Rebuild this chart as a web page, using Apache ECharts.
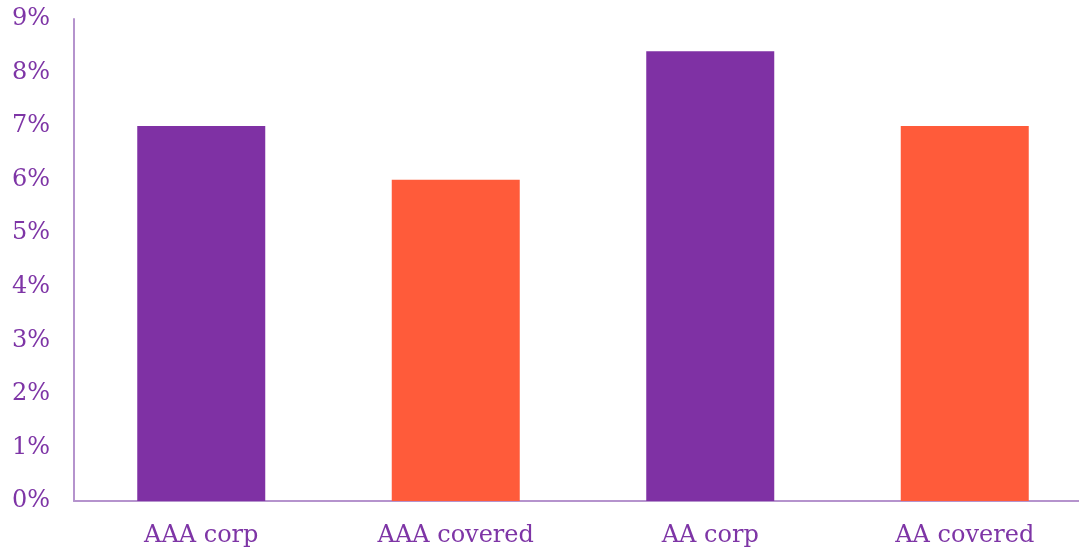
<!DOCTYPE html>
<html>
<head>
<meta charset="utf-8">
<script src="https://cdn.jsdelivr.net/npm/echarts@6/dist/echarts.min.js"></script>
<style>
  html, body { margin: 0; padding: 0; background: #ffffff; }
  #chart { width: 1079px; height: 551px; }
</style>
</head>
<body>
<div id="chart"></div>
<script>
// Yields by rating bucket, in percent
const categories = ['AAA corp', 'AAA covered', 'AA corp', 'AA covered'];
const yields = [7.0, 6.0, 8.4, 7.0];
const barColors = ['#7F31A4', '#FF5B3A', '#7F31A4', '#FF5B3A'];
const yTicks = { min: 0, max: 9, step: 1 };

const textColor = '#7E35A6';
const axisColor = '#B593CD';
const fontFamily = '"DejaVu Serif", Georgia, serif';

const chart = echarts.init(document.getElementById('chart'), null, { renderer: 'canvas' });

chart.setOption({
  animation: false,
  backgroundColor: '#ffffff',
  // plot area runs slightly past the right edge of the canvas
  grid: {
    left: 74, top: 19, width: 1018, bottom: 50,
    containLabel: false,
    outerBoundsMode: 'none'
  },
  xAxis: {
    type: 'category',
    data: categories,
    axisLine: { show: true, lineStyle: { color: axisColor, width: 2 } },
    axisTick: { show: false },
    axisLabel: { color: textColor, fontFamily: fontFamily, fontSize: 24, margin: 23 }
  },
  yAxis: {
    type: 'value',
    min: yTicks.min,
    max: yTicks.max,
    interval: yTicks.step,
    axisLine: { show: true, lineStyle: { color: axisColor, width: 2 } },
    axisTick: { show: false },
    splitLine: { show: false },
    axisLabel: {
      color: textColor,
      fontFamily: fontFamily,
      fontSize: 24,
      margin: 24,
      formatter: '{value}%'
    }
  },
  series: [{
    type: 'bar',
    barWidth: 128,
    data: yields.map((v, i) => ({ value: v, itemStyle: { color: barColors[i] } }))
  }]
});
</script>
</body>
</html>
